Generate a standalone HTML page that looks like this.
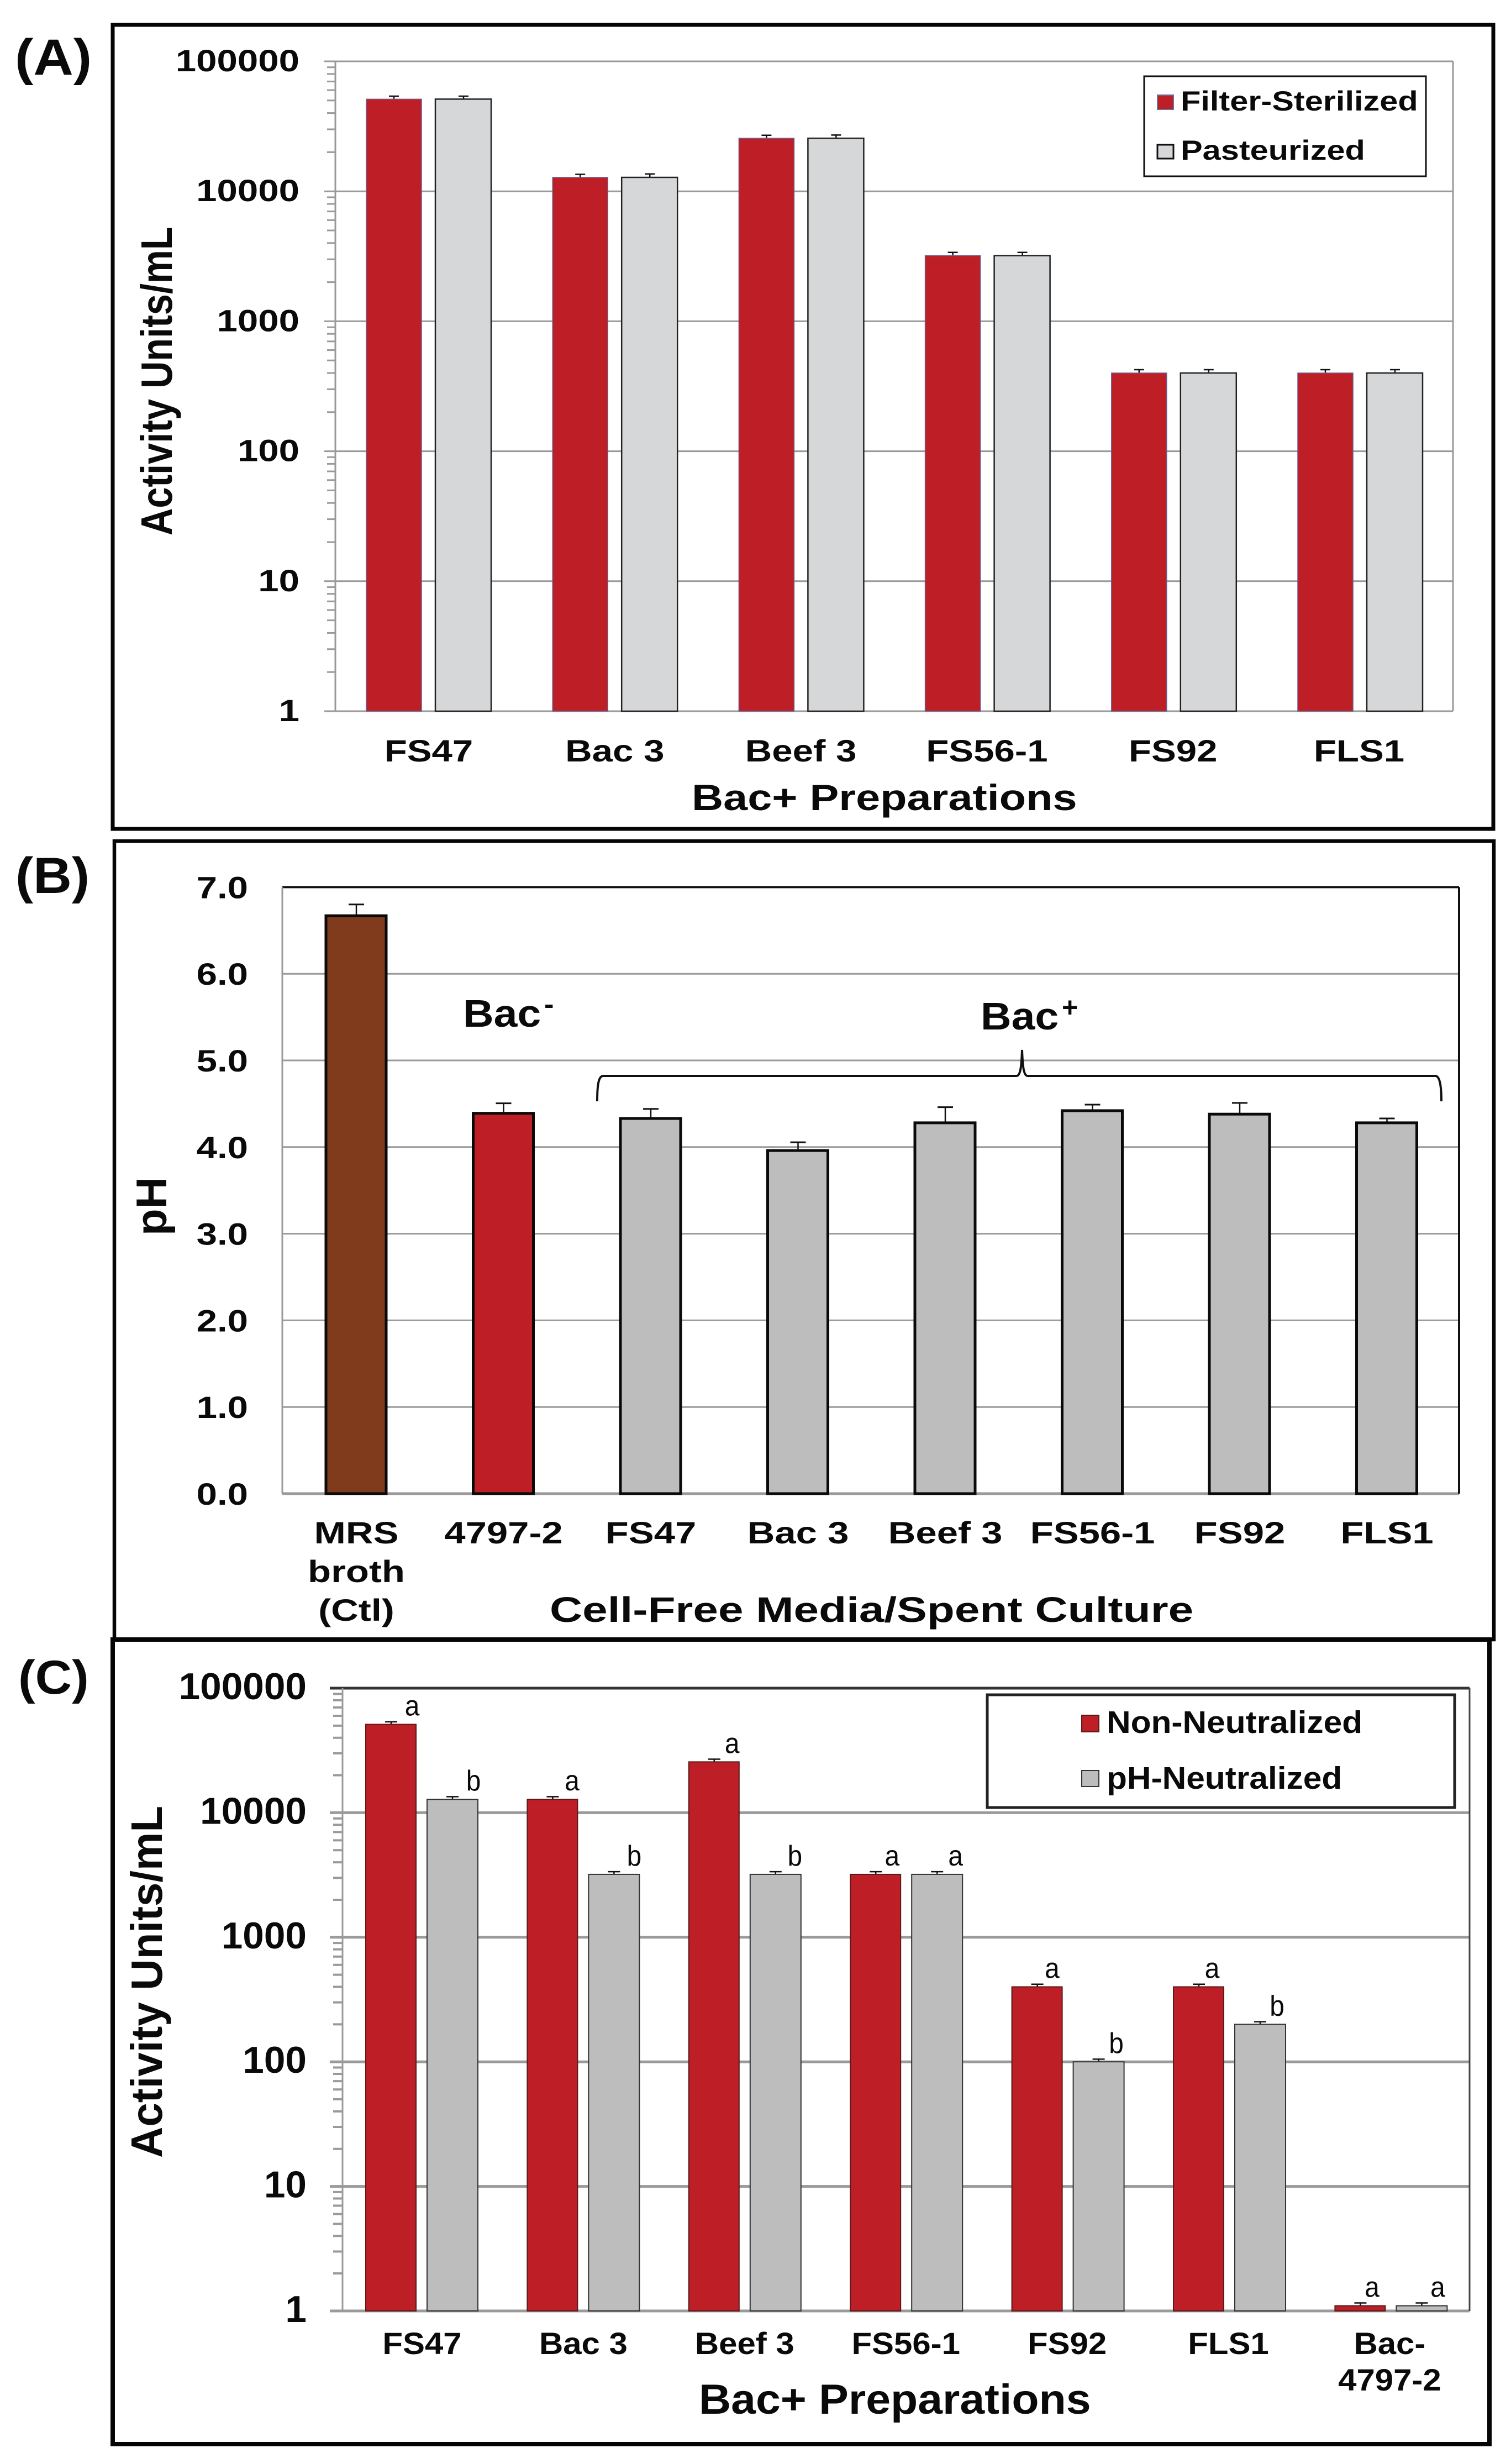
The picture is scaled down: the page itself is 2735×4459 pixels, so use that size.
<!DOCTYPE html>
<html lang="en">
<head>
<meta charset="utf-8">
<title>Bacteriocin activity and pH charts</title>
<style>
html,body{margin:0;padding:0;background:#fff;}
svg{display:block;}
text{font-family:"Liberation Sans",Arial,sans-serif;fill:#0a0a0a;}
.b{font-weight:bold;}
</style>
</head>
<body>
<svg id="figure" xmlns="http://www.w3.org/2000/svg" width="2735" height="4459" viewBox="0 0 2735 4459">
<rect x="0" y="0" width="2735" height="4459" fill="#ffffff"/>

<g id="marks-a"></g>
<g id="marks-b"></g>
<g id="marks-c"></g>

<!-- panel frames -->
<rect x="204" y="45" width="2499" height="1455" fill="none" stroke="#050505" stroke-width="7"/>
<rect x="207" y="1522" width="2497" height="1445" fill="none" stroke="#050505" stroke-width="6.5"/>
<path d="M204 2967 H2696 V4423 H204 Z" fill="none" stroke="#050505" stroke-width="8"/>

<!-- panel letters -->
<text class="b" font-size="92" transform="translate(27 135) scale(1.09 1)">(A)</text>
<text class="b" font-size="92" transform="translate(28 1616) scale(1.05 1)">(B)</text>
<text class="b" font-size="86" transform="translate(33 3065) scale(1.07 1)">(C)</text>

<!-- panel A static -->
<text class="b" font-size="80" transform="translate(311 969) rotate(-90) scale(.855 1)">Activity Units/mL</text>
<text class="b" font-size="66" transform="translate(1252 1466) scale(1.2 1)">Bac+ Preparations</text>
<g>
  <rect x="2071" y="138" width="510" height="181" fill="#ffffff" stroke="#111" stroke-width="3"/>
  <rect x="2095" y="172" width="29" height="26" fill="#be1e26" stroke="#6b6f9e" stroke-width="2"/>
  <rect x="2095" y="262" width="29" height="25" fill="#d6d7d9" stroke="#111" stroke-width="3"/>
  <text class="b" font-size="50" transform="translate(2137 200) scale(1.19 1)">Filter-Sterilized</text>
  <text class="b" font-size="50" transform="translate(2137 289) scale(1.19 1)">Pasteurized</text>
</g>

<!-- panel B static -->
<text class="b" font-size="78" transform="translate(301 2236) rotate(-90) scale(1.02 1)">pH</text>
<text class="b" font-size="64" transform="translate(995 2935) scale(1.28 1)">Cell-Free Media/Spent Culture</text>
<text class="b" font-size="70" transform="translate(838 1858) scale(1.1 1)">Bac</text>
<text class="b" font-size="50" transform="translate(985 1834) scale(1.05 1)">-</text>
<text class="b" font-size="70" transform="translate(1775 1863) scale(1.1 1)">Bac</text>
<text class="b" font-size="50" transform="translate(1922 1840)">+</text>
<path d="M1081 1993 C1081 1965,1083 1947,1092 1947 L1840 1947 C1847 1947,1849 1930,1850 1900 C1851 1930,1853 1947,1860 1947 L2598 1947 C2606 1947,2609 1965,2609 1993" fill="none" stroke="#111" stroke-width="4"/>

<!-- panel C static -->
<text class="b" font-size="80" transform="translate(293 3905) rotate(-90) scale(.975 1)">Activity Units/mL</text>
<text class="b" font-size="76" transform="translate(1265 4368) scale(1.06 1)">Bac+ Preparations</text>
<g>
  <rect x="1787" y="3067" width="846" height="204" fill="#ffffff" stroke="#222" stroke-width="5"/>
  <rect x="1958" y="3104" width="31" height="30" fill="#be1e26" stroke="#5a1a1a" stroke-width="2"/>
  <rect x="1958" y="3204" width="31" height="29" fill="#bdbdbd" stroke="#333" stroke-width="2"/>
  <text class="b" font-size="57" transform="translate(2003 3136) scale(1.06 1)">Non-Neutralized</text>
  <text class="b" font-size="57" transform="translate(2003 3237) scale(1.06 1)">pH-Neutralized</text>
</g>
</svg>

<script>
// Panel A data
const categoriesA = ["FS47", "Bac 3", "Beef 3", "FS56-1", "FS92", "FLS1"];
const filterSterilizedA = [51200, 12800, 25600, 3200, 400, 400];
const pasteurizedA = [51200, 12800, 25600, 3200, 400, 400];
const filterErrorA = [2800, 700, 1400, 190, 24, 24];
const pasteurizedErrorA = [2800, 800, 1500, 190, 24, 24];
const logTicksA = [1, 10, 100, 1000, 10000, 100000];
const logTickLabelsA = ["1", "10", "100", "1000", "10000", "100000"];

// Panel B data
const categoriesB = ["MRS\nbroth\n(Ctl)", "4797-2", "FS47", "Bac 3", "Beef 3", "FS56-1", "FS92", "FLS1"];
const phValuesB = [6.67, 4.39, 4.33, 3.96, 4.28, 4.42, 4.38, 4.28];
const phErrorsB = [0.13, 0.115, 0.11, 0.095, 0.18, 0.07, 0.13, 0.05];
const phFillKindsB = ["control", "negative", "positive", "positive", "positive", "positive", "positive", "positive"];
const phTicksB = [0, 1, 2, 3, 4, 5, 6, 7];
const phTickLabelsB = ["0.0", "1.0", "2.0", "3.0", "4.0", "5.0", "6.0", "7.0"];

// Panel C data
const categoriesC = ["FS47", "Bac 3", "Beef 3", "FS56-1", "FS92", "FLS1", "Bac-\n4797-2"];
const nonNeutralizedC = [51200, 12800, 25600, 3200, 400, 400, 1.1];
const phNeutralizedC = [12800, 3200, 3200, 3200, 100, 200, 1.1];
const nonNeutralizedErrorC = [2500, 650, 1300, 160, 20, 20, 0.06];
const phNeutralizedErrorC = [650, 160, 160, 160, 5, 10, 0.06];
const nonNeutralizedLettersC = ["a", "a", "a", "a", "a", "a", "a"];
const phNeutralizedLettersC = ["b", "b", "b", "a", "b", "b", "a"];
const logTicksC = [1, 10, 100, 1000, 10000, 100000];
const logTickLabelsC = ["1", "10", "100", "1000", "10000", "100000"];

const NS = "http://www.w3.org/2000/svg";
const RED = "#be1e26";
const LIGHT_GRAY = "#d6d7d9";
const MID_GRAY = "#bdbdbd";
const BROWN = "#7f3b1c";
const GRID = "#9a9a9a";

function makeLine(parent, x1, y1, x2, y2, color, width) {
  const el = document.createElementNS(NS, "line");
  el.setAttribute("x1", x1);
  el.setAttribute("y1", y1);
  el.setAttribute("x2", x2);
  el.setAttribute("y2", y2);
  el.setAttribute("stroke", color);
  el.setAttribute("stroke-width", width);
  parent.appendChild(el);
  return el;
}
function makeBar(parent, x, y, w, h, fill, stroke, sw) {
  const el = document.createElementNS(NS, "rect");
  el.setAttribute("x", x);
  el.setAttribute("y", y);
  el.setAttribute("width", w);
  el.setAttribute("height", h);
  el.setAttribute("fill", fill);
  el.setAttribute("stroke", stroke);
  el.setAttribute("stroke-width", sw);
  parent.appendChild(el);
  return el;
}
function makeText(parent, x, y, str, size, sx, anchor, bold) {
  const el = document.createElementNS(NS, "text");
  el.setAttribute("transform", "translate(" + x + " " + y + ") scale(" + sx + " 1)");
  el.setAttribute("font-size", size);
  el.setAttribute("text-anchor", anchor);
  if (bold) el.setAttribute("font-weight", "bold");
  el.textContent = str;
  parent.appendChild(el);
  return el;
}

/* ---------- Panel A ---------- */
const gA = document.getElementById("marks-a");
const yA = function (v) { return 1287 - Math.log10(v) * 235.2; };
const xA = function (i) { return 663 + i * 337.2; };
const leftA = 607, rightA = 2630;

logTicksA.forEach(function (t, i) {
  const y = yA(t);
  const grid = makeLine(gA, 587, y, rightA, y, GRID, 3);
  
  
  const lab = makeText(gA, 542, y + 18, logTickLabelsA[i], 56, 1.2, "end", true);
  
  
  if (i < logTicksA.length - 1) {
    for (let m = 2; m <= 9; m++) {
      const my = yA(t * m);
      const minor = makeLine(gA, 592, my, leftA, my, GRID, 3);
      
      
    }
  }
});
const axisA = makeLine(gA, leftA, yA(100000), leftA, yA(1), GRID, 3);


const rightEdgeA = makeLine(gA, rightA, yA(100000), rightA, yA(1), GRID, 3);



categoriesA.forEach(function (c, i) {
  const x = xA(i);
  const topR = yA(filterSterilizedA[i]);
  const capR = yA(filterSterilizedA[i] + filterErrorA[i]);
  const stemR = makeLine(gA, x + 50, topR, x + 50, capR, "#111", 2.5);
  
  
  const capLineR = makeLine(gA, x + 41, capR, x + 59, capR, "#111", 2.5);
  
  
  const barR = makeBar(gA, x, topR, 100, yA(1) - topR, RED, "#6b5f8e", 1.5);
  
  

  const topG = yA(pasteurizedA[i]);
  const capG = yA(pasteurizedA[i] + pasteurizedErrorA[i]);
  const stemG = makeLine(gA, x + 176, topG, x + 176, capG, "#111", 2.5);
  
  
  const capLineG = makeLine(gA, x + 167, capG, x + 185, capG, "#111", 2.5);
  
  
  const barG = makeBar(gA, x + 125, topG, 101, yA(1) - topG, LIGHT_GRAY, "#222", 2.5);
  
  

  const lab = makeText(gA, x + 113 - i * 0.4, 1378, c, 56, 1.2, "middle", true);
  
  
});

/* ---------- Panel B ---------- */
const gB = document.getElementById("marks-b");
const yB = function (v) { return 2703 - 156.8 * v; };
const xB = function (i) { return 590 + i * 266.5; };
const leftB = 511, rightB = 2641;

phTicksB.forEach(function (t, i) {
  const y = yB(t);
  const lineColor = t === 7 ? "#111" : GRID;
  const lineWidth = t === 7 ? 4 : (t === 0 ? 5 : 3);
  const grid = makeLine(gB, leftB, y, rightB, y, lineColor, lineWidth);
  
  
  const lab = makeText(gB, 449, y + 20, phTickLabelsB[i], 56, 1.2, "end", true);
  
  
});
const axisB = makeLine(gB, leftB, yB(7), leftB, yB(0), GRID, 3);


const rightEdgeB = makeLine(gB, rightB, yB(7), rightB, yB(0), "#111", 4);



const fillsB = { control: BROWN, negative: RED, positive: MID_GRAY };
categoriesB.forEach(function (c, i) {
  const x = xB(i);
  const top = yB(phValuesB[i]);
  const cap = yB(phValuesB[i] + phErrorsB[i]);
  const stem = makeLine(gB, x + 55, top, x + 55, cap, "#111", 2.5);
  
  
  const capLine = makeLine(gB, x + 41, cap, x + 69, cap, "#111", 3);
  
  
  const bar = makeBar(gB, x, top, 109, yB(0) - top, fillsB[phFillKindsB[i]], "#0a0a0a", 5);
  
  

  c.split("\n").forEach(function (line, k) {
    const lab = makeText(gB, x + 55, 2793 + k * 70, line, 56, 1.23, "middle", true);
    
    
  });
});

/* ---------- Panel C ---------- */
const gC = document.getElementById("marks-c");
const yC = function (v) { return 4182 - Math.log10(v) * 225.4; };
const xC = function (i) { return 662 + i * 292.4; };
const leftC = 620, rightC = 2660;

logTicksC.forEach(function (t, i) {
  const y = yC(t);
  const lineColor = t === 100000 ? "#333" : GRID;
  const grid = makeLine(gC, 597, y, rightC, y, lineColor, 5);
  
  
  const lab = makeText(gC, 555, y + 20, logTickLabelsC[i], 68, 1.02, "end", true);
  
  
  if (i < logTicksC.length - 1) {
    for (let m = 2; m <= 9; m++) {
      const my = yC(t * m);
      const minor = makeLine(gC, 603, my, leftC, my, GRID, 4);
      
      
    }
  }
});
const axisC = makeLine(gC, leftC, yC(100000), leftC, yC(1), GRID, 3);


const rightEdgeC = makeLine(gC, rightC, yC(100000), rightC, yC(1), "#444", 3);



categoriesC.forEach(function (c, i) {
  const x = xC(i);
  const topR = yC(nonNeutralizedC[i]);
  const capR = yC(nonNeutralizedC[i] + nonNeutralizedErrorC[i]);
  const stemR = makeLine(gC, x + 46, topR, x + 46, capR, "#111", 2.5);
  
  
  const capLineR = makeLine(gC, x + 35, capR, x + 57, capR, "#111", 2.5);
  
  
  const barR = makeBar(gC, x, topR, 91, yC(1) - topR, RED, "#5a1a1a", 2);
  
  
  const letR = makeText(gC, x + 46 + 38 - i * 2.8, topR - 16, nonNeutralizedLettersC[i], 52, 0.92, "middle", false);
  
  

  const topG = yC(phNeutralizedC[i]);
  const capG = yC(phNeutralizedC[i] + phNeutralizedErrorC[i]);
  const stemG = makeLine(gC, x + 157, topG, x + 157, capG, "#111", 2.5);
  
  
  const capLineG = makeLine(gC, x + 146, capG, x + 168, capG, "#111", 2.5);
  
  
  const barG = makeBar(gC, x + 111, topG, 92, yC(1) - topG, MID_GRAY, "#333", 2);
  
  
  const letG = makeText(gC, x + 157 + 38 - i * 1.5, topG - 16, phNeutralizedLettersC[i], 52, 0.92, "middle", false);
  
  

  c.split("\n").forEach(function (line, k) {
    const lab = makeText(gC, x + 102 - i * 0.5, 4260 + k * 66, line, 56, 1.07, "middle", true);
    
    
  });
});
</script>
</body>
</html>
